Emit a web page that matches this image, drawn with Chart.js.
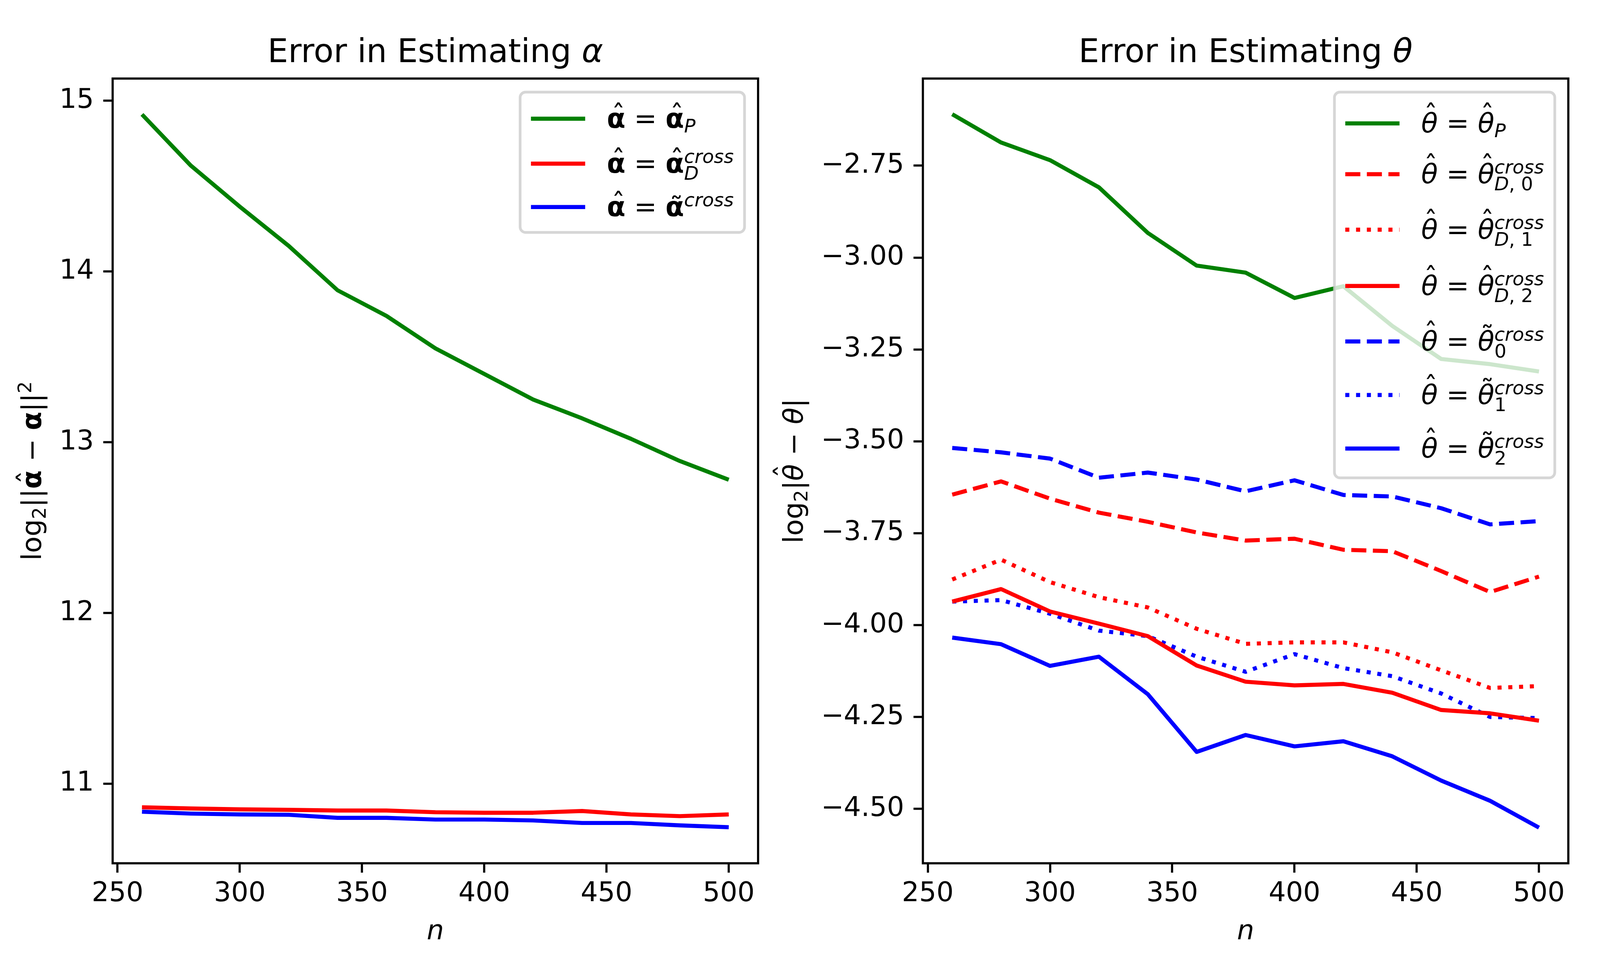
<!DOCTYPE html>
<html>
<head>
<meta charset="utf-8">
<script src="https://cdn.jsdelivr.net/npm/chart.js@4.4.1/dist/chart.umd.min.js"></script>
<style>
  html, body { margin: 0; padding: 0; background: #ffffff; overflow: hidden; }
  #wrap { position: relative; background: #ffffff; }
  canvas { position: absolute; top: 0; left: 0; }
</style>
</head>
<body>
<div id="wrap">
  <canvas id="cA"></canvas>
  <canvas id="cT"></canvas>
</div>
<script>
// ---------------- data ----------------
const nValues = [260, 280, 300, 320, 340, 360, 380, 400, 420, 440, 460, 480, 500];
const nTicks = [250, 300, 350, 400, 450, 500];

const alphaP     = [14.92, 14.62, 14.38, 14.15, 13.89, 13.74, 13.55, 13.40, 13.25, 13.14, 13.02, 12.89, 12.78];
const alphaD     = [10.862, 10.855, 10.850, 10.847, 10.843, 10.843, 10.833, 10.830, 10.830, 10.840, 10.820, 10.810, 10.820];
const alphaTilde = [10.836, 10.825, 10.820, 10.818, 10.800, 10.800, 10.790, 10.790, 10.785, 10.770, 10.770, 10.756, 10.745];
const alphaTicks = [11, 12, 13, 14, 15];

const thetaP  = [-2.610, -2.687, -2.735, -2.809, -2.933, -3.022, -3.041, -3.110, -3.078, -3.186, -3.276, -3.290, -3.310];
const thetaD0 = [-3.645, -3.609, -3.656, -3.694, -3.719, -3.748, -3.770, -3.765, -3.795, -3.799, -3.853, -3.910, -3.868];
const thetaD1 = [-3.876, -3.822, -3.883, -3.924, -3.952, -4.010, -4.051, -4.047, -4.047, -4.074, -4.123, -4.171, -4.166];
const thetaD2 = [-3.936, -3.902, -3.963, -3.996, -4.030, -4.110, -4.154, -4.164, -4.160, -4.184, -4.231, -4.240, -4.260];
const thetaT0 = [-3.518, -3.530, -3.547, -3.599, -3.585, -3.604, -3.636, -3.606, -3.646, -3.650, -3.682, -3.726, -3.717];
const thetaT1 = [-3.936, -3.932, -3.969, -4.015, -4.030, -4.086, -4.127, -4.079, -4.117, -4.139, -4.186, -4.250, -4.253];
const thetaT2 = [-4.034, -4.052, -4.111, -4.086, -4.188, -4.345, -4.299, -4.330, -4.316, -4.357, -4.423, -4.478, -4.551];
const thetaTicks = [-4.5, -4.25, -4.0, -3.75, -3.5, -3.25, -3.0, -2.75];

// ---------------- page geometry (reference figure is 5000 x 2500) ----------------
const W = Math.min(window.innerWidth || 5000, 5000);
const H = Math.min(window.innerHeight || 2500, 2500);
const KX = W / 5000, KY = H / 2500;
const wrap = document.getElementById('wrap');
wrap.style.width = W + 'px';
wrap.style.height = H + 'px';

// ---------------- style ----------------
const FONT = '"DejaVu Sans", "Liberation Sans", sans-serif';
const FS = 69.4;          // 10 pt at 500 dpi
const TFS = 83.3;         // 12 pt
const LW = 10.4;          // 1.5 pt
const DASHED = [38.5, 16.7];
const DOTTED = [10.4, 17.2];
const GREEN = '#008000', RED = '#ff0000', BLUE = '#0000ff';
const TICK_LEN = 24, TICK_PAD = 24, LABEL_PAD = 28;

function fnt(st, size) {
  return (st.indexOf('i') >= 0 ? 'italic ' : '') + (st.indexOf('b') >= 0 ? 'bold ' : '') + size + 'px ' + FONT;
}
// rich (math-like) text: atoms {t, st, acc, ay, ax, sub:[], sup:[]}
function rich(ctx, atoms, size, x, y, draw) {
  let cx = x;
  for (const a of atoms) {
    const st = a.st || 'n';
    ctx.font = fnt(st, size);
    const w = ctx.measureText(a.t).width;
    if (draw) {
      ctx.fillText(a.t, cx, y);
      if (a.acc) {
        ctx.font = fnt('n', size);
        const aw = ctx.measureText(a.acc).width;
        ctx.fillText(a.acc, cx + w / 2 - aw / 2 + (a.ax || 0) * size, y - (a.ay || 0) * size);
      }
    }
    cx += w;
    let sw = 0;
    const s2 = size * 0.7;
    if (a.sup) sw = Math.max(sw, rich(ctx, a.sup, s2, cx, y - 0.36 * size, draw));
    if (a.sub) sw = Math.max(sw, rich(ctx, a.sub, s2, cx, y + (a.sup ? 0.26 : 0.17) * size, draw));
    cx += sw;
  }
  return cx - x;
}

// atom helpers
const A_HAT = () => ({ t: 'α', st: 'b', acc: 'ˆ', ay: 0.13, ax: 0.08 });
const T_HAT = () => ({ t: 'θ', st: 'i', acc: 'ˆ', ay: 0.30, ax: 0.05 });
const CROSS = [{ t: 'cross', st: 'i' }];
const EQ = { t: ' = ' };

const alphaLegend = [
  [A_HAT(), EQ, Object.assign(A_HAT(), { sub: [{ t: 'P', st: 'i' }] })],
  [A_HAT(), EQ, Object.assign(A_HAT(), { sup: CROSS, sub: [{ t: 'D', st: 'i' }] })],
  [A_HAT(), EQ, { t: 'α', st: 'b', acc: '˜', ay: -0.02, ax: 0.06, sup: CROSS }]
];
const thetaLegend = [
  [T_HAT(), EQ, Object.assign(T_HAT(), { sub: [{ t: 'P', st: 'i' }] })],
  [T_HAT(), EQ, Object.assign(T_HAT(), { sup: CROSS, sub: [{ t: 'D', st: 'i' }, { t: ', 0' }] })],
  [T_HAT(), EQ, Object.assign(T_HAT(), { sup: CROSS, sub: [{ t: 'D', st: 'i' }, { t: ', 1' }] })],
  [T_HAT(), EQ, Object.assign(T_HAT(), { sup: CROSS, sub: [{ t: 'D', st: 'i' }, { t: ', 2' }] })],
  [T_HAT(), EQ, { t: 'θ', st: 'i', acc: '˜', ay: 0.18, ax: 0.05, sup: CROSS, sub: [{ t: '0' }] }],
  [T_HAT(), EQ, { t: 'θ', st: 'i', acc: '˜', ay: 0.18, ax: 0.05, sup: CROSS, sub: [{ t: '1' }] }],
  [T_HAT(), EQ, { t: 'θ', st: 'i', acc: '˜', ay: 0.18, ax: 0.05, sup: CROSS, sub: [{ t: '2' }] }]
];

const alphaTitle = [{ t: 'Error in Estimating ' }, { t: 'α', st: 'i' }];
const thetaTitle = [{ t: 'Error in Estimating ' }, { t: 'θ', st: 'i' }];
const alphaYLabel = [{ t: 'log', sub: [{ t: '2' }] }, { t: '||' }, A_HAT(), { t: ' − ' }, { t: 'α', st: 'b' }, { t: '||', sup: [{ t: '2' }] }];
const thetaYLabel = [{ t: 'log', sub: [{ t: '2' }] }, { t: '|' }, T_HAT(), { t: ' − ' }, { t: 'θ', st: 'i' }, { t: '|' }];
const xLabel = [{ t: 'n', st: 'i' }];

function decorPlugin(cfg) {
  return {
    id: 'decor',
    afterDatasetsDraw(chart) {
      const ctx = chart.ctx;
      const ca = chart.chartArea;
      ctx.save();
      // frame (spines)
      ctx.strokeStyle = '#000';
      ctx.lineWidth = 5.55;
      ctx.lineJoin = 'miter';
      ctx.strokeRect(ca.left, ca.top, ca.right - ca.left, ca.bottom - ca.top);
      ctx.fillStyle = '#000';
      ctx.textBaseline = 'alphabetic';
      ctx.textAlign = 'left';
      // title
      const cx = (ca.left + ca.right) / 2;
      let w = rich(ctx, cfg.title, TFS, 0, 0, false);
      rich(ctx, cfg.title, TFS, cx - w / 2, ca.top - 42, true);
      // x label
      w = rich(ctx, xLabel, FS, 0, 0, false);
      rich(ctx, xLabel, FS, cx - w / 2, 2404 * KY, true);
      // y label (rotated), placed left of the widest tick label like matplotlib
      const ys = chart.scales.y;
      ctx.font = fnt('n', FS);
      let maxTick = 0;
      ys.ticks.forEach(t => {
        const s = ys.options.ticks.callback(t.value);
        maxTick = Math.max(maxTick, ctx.measureText(s).width);
      });
      const yBase = ca.left - TICK_LEN - TICK_PAD - maxTick - LABEL_PAD - 0.27 * FS;
      w = rich(ctx, cfg.ylabel, FS, 0, 0, false);
      ctx.save();
      ctx.translate(yBase, (ca.top + ca.bottom) / 2);
      ctx.rotate(-Math.PI / 2);
      rich(ctx, cfg.ylabel, FS, -w / 2, 0, true);
      ctx.restore();
      // legend
      const pad = 0.4 * FS, hl = 2.0 * FS, htp = 0.8 * FS, bap = 0.5 * FS;
      let maxW = 0;
      for (const lab of cfg.legend) maxW = Math.max(maxW, rich(ctx, lab, FS, 0, 0, false));
      const fw = pad + hl + htp + maxW + pad;
      const fx = ca.right - bap - fw, fy = ca.top + bap;
      const fh = cfg.legendH;
      const r = 0.2 * FS;
      ctx.beginPath();
      ctx.moveTo(fx + r, fy);
      ctx.arcTo(fx + fw, fy, fx + fw, fy + fh, r);
      ctx.arcTo(fx + fw, fy + fh, fx, fy + fh, r);
      ctx.arcTo(fx, fy + fh, fx, fy, r);
      ctx.arcTo(fx, fy, fx + fw, fy, r);
      ctx.closePath();
      ctx.fillStyle = 'rgba(255,255,255,0.8)';
      ctx.fill();
      ctx.strokeStyle = 'rgba(204,204,204,0.8)';
      ctx.lineWidth = 6.9;
      ctx.stroke();
      chart.data.datasets.forEach((ds, i) => {
        const yy = fy + cfg.rows[i];
        ctx.save();
        ctx.strokeStyle = ds.borderColor;
        ctx.lineWidth = ds.borderWidth;
        ctx.setLineDash(ds.borderDash || []);
        ctx.lineCap = 'butt';
        ctx.beginPath();
        ctx.moveTo(fx + pad, yy);
        ctx.lineTo(fx + pad + hl, yy);
        ctx.stroke();
        ctx.restore();
        ctx.fillStyle = '#000';
        rich(ctx, cfg.legend[i], FS, fx + pad + hl + htp, yy + 0.335 * FS, true);
      });
      ctx.restore();
    }
  };
}

function lineDs(label, data, color, dash) {
  return {
    label: label,
    data: data,
    borderColor: color,
    backgroundColor: color,
    borderWidth: LW,
    borderDash: dash || [],
    borderJoinStyle: 'round',
    borderCapStyle: 'butt',
    pointRadius: 0,
    tension: 0,
    fill: false
  };
}

// axes box in reference pixels: [left, right]; top 201, bottom 2209
function makeChart(canvasId, datasets, yMin, yMax, yTicks, yFmt, axLeft, axRight, cfg) {
  const cv = document.getElementById(canvasId);
  cv.width = W; cv.height = H;
  cv.style.width = W + 'px'; cv.style.height = H + 'px';
  const left = axLeft * KX, right = axRight * KX, top = 201 * KY, bottom = 2209 * KY;
  const commonTicks = { color: '#000', font: { family: FONT, size: FS } };
  const grid = { display: true, drawOnChartArea: false, drawTicks: true, tickLength: TICK_LEN, tickWidth: 5.55, tickColor: '#000', color: '#000' };
  return new Chart(cv, {
    type: 'line',
    data: { labels: nValues, datasets: datasets },
    options: {
      responsive: false,
      animation: false,
      devicePixelRatio: 1,
      layout: { padding: { left: 0, top: top, right: W - right, bottom: 0 } },
      plugins: { legend: { display: false }, title: { display: false }, tooltip: { enabled: false } },
      scales: {
        x: {
          type: 'linear', min: 248, max: 512,
          grid: grid, border: { display: false },
          ticks: Object.assign({ padding: 13, autoSkip: false, maxRotation: 0, callback: v => String(v) }, commonTicks),
          afterBuildTicks: s => { s.ticks = nTicks.map(v => ({ value: v })); },
          afterFit: s => { s.height = H - bottom; }
        },
        y: {
          type: 'linear', min: yMin, max: yMax,
          grid: grid, border: { display: false },
          ticks: Object.assign({ padding: TICK_PAD, autoSkip: false, callback: yFmt }, commonTicks),
          afterBuildTicks: s => { s.ticks = yTicks.map(v => ({ value: v })); },
          afterFit: s => { s.width = left; }
        }
      }
    },
    plugins: [decorPlugin(cfg)]
  });
}

function xy(arr) { return arr.map((v, i) => ({ x: nValues[i], y: v })); }

makeChart('cA', [
  lineDs('α̂ = α̂_P', xy(alphaP), GREEN),
  lineDs('α̂ = α̂_D^cross', xy(alphaD), RED),
  lineDs('α̂ = α̃^cross', xy(alphaTilde), BLUE)
], 10.534, 15.13, alphaTicks, v => String(v), 352, 2369, {
  title: alphaTitle, ylabel: alphaYLabel, legend: alphaLegend,
  legendH: 359, rows: [68, 183, 294]
});

makeChart('cT', [
  lineDs('θ̂ = θ̂_P', xy(thetaP), GREEN),
  lineDs('θ̂ = θ̂_{D,0}^cross', xy(thetaD0), RED, DASHED),
  lineDs('θ̂ = θ̂_{D,1}^cross', xy(thetaD1), RED, DOTTED),
  lineDs('θ̂ = θ̂_{D,2}^cross', xy(thetaD2), RED),
  lineDs('θ̂ = θ̃_0^cross', xy(thetaT0), BLUE, DASHED),
  lineDs('θ̂ = θ̃_1^cross', xy(thetaT1), BLUE, DOTTED),
  lineDs('θ̂ = θ̃_2^cross', xy(thetaT2), BLUE)
], -4.648, -2.513, thetaTicks, v => v.toFixed(2).replace('-', '\u2212'), 2884, 4901, {
  title: thetaTitle, ylabel: thetaYLabel, legend: thetaLegend,
  legendH: 987, rows: [80, 210, 352, 496, 638, 775, 912]
});
</script>
</body>
</html>
